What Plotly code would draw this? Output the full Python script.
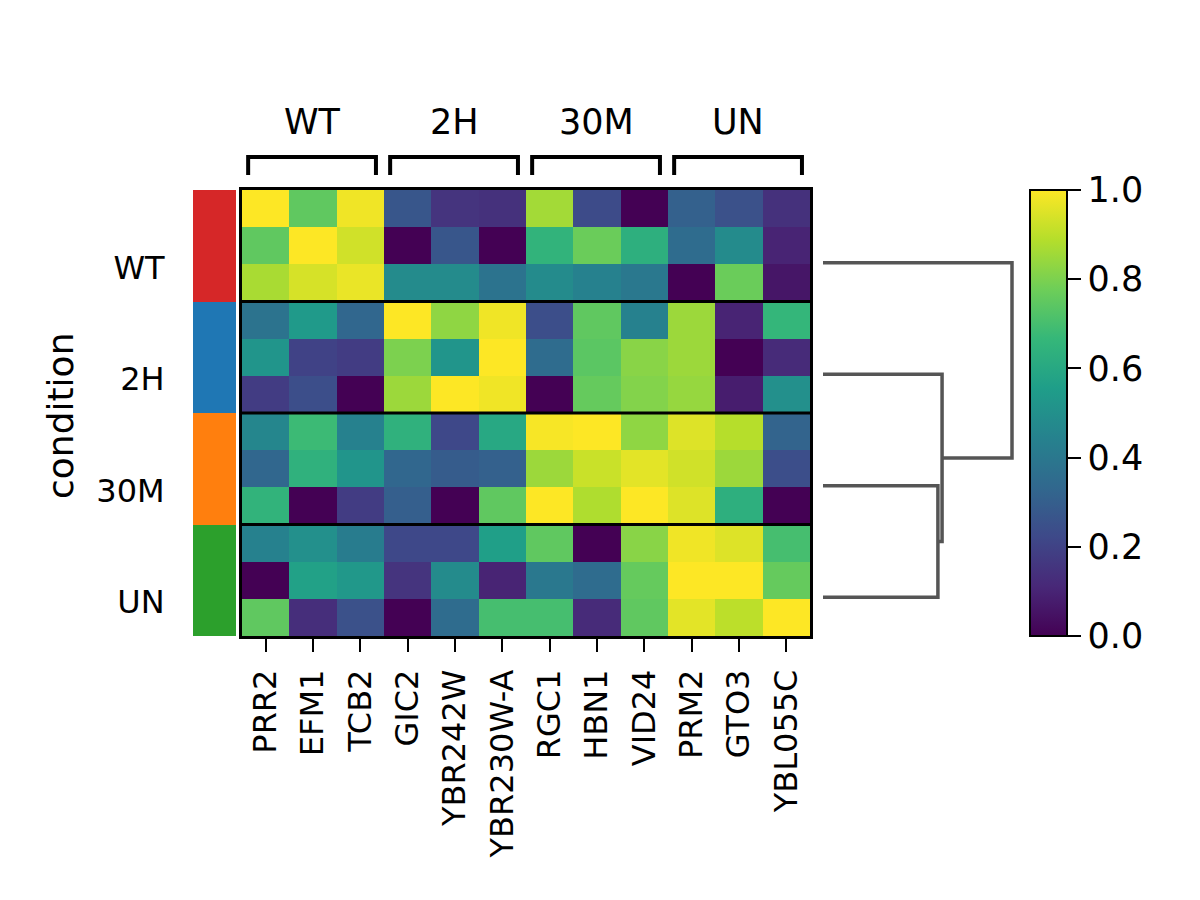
import plotly.graph_objects as go

genes = ["PRR2", "EFM1", "TCB2", "GIC2", "YBR242W", "YBR230W-A",
         "RGC1", "HBN1", "VID24", "PRM2", "GTO3", "YBL055C"]
gene_groups = ["WT", "2H", "30M", "UN"]
genes_per_group = 3
conditions = ["WT", "2H", "30M", "UN"]
cells_per_condition = 3
condition_colors = ["#d62728", "#1f77b4", "#ff7f0e", "#2ca02c"]

row_wt1 = [1.00, 0.75, 0.98, 0.27, 0.15, 0.14, 0.86, 0.23, 0.00, 0.31, 0.25, 0.14]
row_wt2 = [0.75, 1.00, 0.93, 0.00, 0.27, 0.00, 0.65, 0.77, 0.63, 0.35, 0.48, 0.10]
row_wt3 = [0.87, 0.94, 0.97, 0.48, 0.48, 0.38, 0.48, 0.44, 0.40, 0.00, 0.77, 0.06]
row_2h1 = [0.38, 0.54, 0.33, 1.00, 0.83, 0.98, 0.24, 0.75, 0.44, 0.85, 0.10, 0.66]
row_2h2 = [0.52, 0.20, 0.18, 0.80, 0.52, 1.00, 0.35, 0.74, 0.82, 0.85, 0.00, 0.12]
row_2h3 = [0.18, 0.24, 0.00, 0.85, 1.00, 0.98, 0.00, 0.76, 0.81, 0.84, 0.08, 0.50]
row_30m1 = [0.46, 0.68, 0.44, 0.64, 0.22, 0.60, 0.99, 1.00, 0.83, 0.95, 0.89, 0.32]
row_30m2 = [0.33, 0.64, 0.52, 0.33, 0.29, 0.31, 0.85, 0.92, 0.96, 0.93, 0.85, 0.24]
row_30m3 = [0.65, 0.00, 0.18, 0.30, 0.00, 0.75, 1.00, 0.88, 1.00, 0.95, 0.63, 0.00]
row_un1 = [0.44, 0.50, 0.42, 0.22, 0.22, 0.56, 0.75, 0.00, 0.82, 0.98, 0.95, 0.70]
row_un2 = [0.00, 0.57, 0.53, 0.15, 0.48, 0.10, 0.40, 0.35, 0.76, 1.00, 1.00, 0.76]
row_un3 = [0.75, 0.13, 0.25, 0.00, 0.35, 0.70, 0.70, 0.12, 0.75, 0.96, 0.90, 1.00]

# dendrogram merges between condition groups: (left, right, distance)
dendro_merges = [(2, 3, 0.608), (1, 4, 0.630), (0, 5, 1.0)]

colorbar_ticks = [0.0, 0.2, 0.4, 0.6, 0.8, 1.0]

z = [row_wt1, row_wt2, row_wt3, row_2h1, row_2h2, row_2h3,
     row_30m1, row_30m2, row_30m3, row_un1, row_un2, row_un3]
n_rows = len(z)
n_cols = len(genes)

W, H = 1200, 900
PAGE_MARGIN = 8  # default body margin of the html page


def px_x(p):
    return (p - PAGE_MARGIN) / W


def px_y(p):
    return 1 - (p - PAGE_MARGIN) / H


FONT = "DejaVu Sans"
fig = go.Figure()

# main heatmap
fig.add_trace(go.Heatmap(
    z=z, x=list(range(n_cols)), y=list(range(n_rows)),
    colorscale="Viridis", zmin=0, zmax=1,
    xaxis="x", yaxis="y",
    colorbar=dict(
        x=px_x(1030), xanchor="left", xpad=0,
        y=px_y(413), yanchor="middle",
        lenmode="pixels", len=446,
        thicknessmode="pixels", thickness=37,
        outlinewidth=2, outlinecolor="black",
        ticks="outside", ticklen=13, tickwidth=2, tickcolor="black",
        tickvals=colorbar_ticks, tickformat=".1f",
        tickfont=dict(family=FONT, size=35, color="black"),
        ypad=0,
    ),
))

# condition colour bar
cond_z = [[i // cells_per_condition] for i in range(n_rows)]
ncond = len(conditions)
cscale = []
for i, c in enumerate(condition_colors):
    cscale.append([i / ncond, c])
    cscale.append([(i + 1) / ncond, c])
fig.add_trace(go.Heatmap(
    z=cond_z, x=[0], y=list(range(n_rows)),
    colorscale=cscale, zmin=-0.5, zmax=ncond - 0.5,
    showscale=False, xaxis="x2", yaxis="y2",
))

# dendrogram
leaf_offset = 0.46
pos = {}
height = {}
for i in range(ncond):
    pos[i] = i * cells_per_condition + (cells_per_condition - 1) / 2 + leaf_offset
    height[i] = 0.0
node = ncond
for a, b, d in dendro_merges:
    xs = [height[a], d, d, height[b]]
    ys = [pos[a], pos[a], pos[b], pos[b]]
    fig.add_trace(go.Scatter(
        x=xs, y=ys, mode="lines", xaxis="x3", yaxis="y",
        line=dict(color="#555555", width=3.5), showlegend=False,
        hoverinfo="skip",
    ))
    pos[node] = (pos[a] + pos[b]) / 2
    height[node] = d
    node += 1

y_dom = [px_y(636), px_y(190)]
fig.update_layout(
    width=W, height=H, autosize=False,
    margin=dict(l=0, r=0, t=0, b=0),
    paper_bgcolor="white", plot_bgcolor="white",
    font=dict(family=FONT, color="black"),
    showlegend=False,
    xaxis=dict(
        domain=[px_x(242), px_x(810)], range=[-0.5, n_cols - 0.5],
        tickmode="array", tickvals=list(range(n_cols)), ticktext=genes,
        tickangle=-90, ticks="outside", ticklen=13, tickwidth=2, tickcolor="black",
        ticklabelstandoff=5,
        tickfont=dict(family=FONT, size=32, color="black"),
        showline=True, linewidth=2.5, linecolor="black", mirror=True,
        showgrid=False, zeroline=False, anchor="y",
    ),
    yaxis=dict(
        domain=y_dom, range=[n_rows - 0.5, -0.5],
        showticklabels=False, ticks="",
        showline=True, linewidth=2.5, linecolor="black", mirror=True,
        showgrid=False, zeroline=False, anchor="x",
    ),
    xaxis2=dict(
        domain=[px_x(193), px_x(236)], range=[-0.5, 0.5],
        showticklabels=False, ticks="", showline=False, showgrid=False,
        zeroline=False, anchor="y2",
    ),
    yaxis2=dict(
        domain=y_dom, range=[n_rows - 0.5, -0.5], anchor="x2",
        tickmode="array",
        tickvals=[i * cells_per_condition + (cells_per_condition - 1) / 2 + 0.58
                  for i in range(ncond)],
        ticktext=conditions,
        ticks="outside", ticklen=21, tickcolor="rgba(0,0,0,0)",
        tickfont=dict(family=FONT, size=32, color="black"),
        showline=False, showgrid=False, zeroline=False,
    ),
    xaxis3=dict(
        domain=[px_x(823), px_x(1022)], range=[0, 1.0 * (1022 - 823) / (1012 - 823)],
        visible=False, anchor="y",
    ),
)

# group separator lines across heatmap
for k in range(1, ncond):
    yb = k * cells_per_condition - 0.5
    fig.add_shape(type="line", xref="x", yref="y",
                  x0=-0.5, x1=n_cols - 0.5, y0=yb, y1=yb,
                  line=dict(color="black", width=3))

# gene-group brackets and labels
top_y = px_y(157)
bot_y = px_y(175)
for g, name in enumerate(gene_groups):
    c0 = g * genes_per_group - 0.5 + 0.13
    c1 = (g + 1) * genes_per_group - 0.5 - 0.17
    fig.add_shape(type="path", xref="x", yref="paper",
                  path=f"M {c0} {bot_y} L {c0} {top_y} L {c1} {top_y} L {c1} {bot_y}",
                  line=dict(color="black", width=4))
    fig.add_annotation(x=(c0 + c1) / 2, y=px_y(122), xref="x", yref="paper",
                       text=name, showarrow=False,
                       font=dict(family=FONT, size=35, color="black"),
                       xanchor="center", yanchor="middle")

fig.add_annotation(x=px_x(60), y=px_y(416), xref="paper", yref="paper",
                   text="condition", textangle=-90, showarrow=False,
                   font=dict(family=FONT, size=36, color="black"),
                   xanchor="center", yanchor="middle")

fig.write_html("out.html")
